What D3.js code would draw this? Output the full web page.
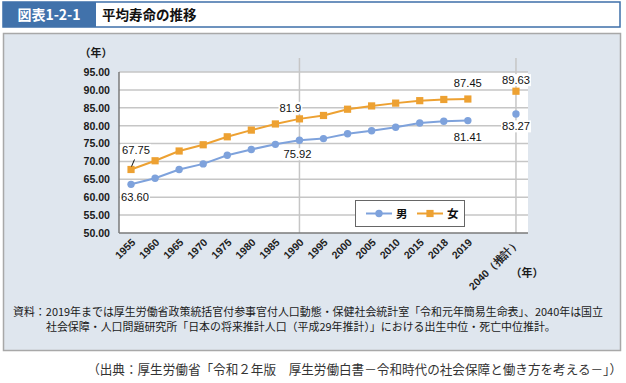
<!DOCTYPE html>
<html><head><meta charset="utf-8">
<script src="https://cdn.jsdelivr.net/npm/d3@7"></script>
<style>
body{margin:0;background:#fff;}
svg{display:block;}
</style></head>
<body>
<svg id="c" width="626" height="383"></svg>
<script>
const categories = ["1955","1960","1965","1970","1975","1980","1985","1990","1995","2000","2005","2010","2015","2018","2019","","2040（推計）"];
const male   = [63.60,65.32,67.74,69.31,71.73,73.35,74.78,75.92,76.38,77.72,78.56,79.55,80.75,81.25,81.41,null,83.27];
const female = [67.75,70.19,72.92,74.66,76.89,78.76,80.48,81.90,82.85,84.60,85.52,86.30,86.99,87.32,87.45,null,89.63];
const yTicks = [50,55,60,65,70,75,80,85,90,95];
const seriesNames = ["男","女"];
const labelText = {male:{"1955":"63.60","1990":"75.92","2019":"81.41","2040（推計）":"83.27"},
                   female:{"1955":"67.75","1990":"81.9","2019":"87.45","2040（推計）":"89.63"}};

const svg = d3.select("#c");
const blue = "#7ea2dc", orange = "#eda132";
const fontNum = "'Liberation Sans', Arial, sans-serif";
const fontJP = "'Noto Sans CJK JP', sans-serif";

// title bar
svg.append("rect").attr("x",3).attr("y",2).attr("width",617).attr("height",25)
  .attr("fill","#fff").attr("stroke","#3e6fa9").attr("stroke-width",1.5);
svg.append("rect").attr("x",3).attr("y",2).attr("width",93).attr("height",25).attr("fill","#4172ab");
svg.append("text").attr("x",49).attr("y",15).attr("dy","0.35em").attr("text-anchor","middle")
  .attr("fill","#fff").attr("font-family",fontJP).attr("font-weight","bold").attr("font-size",14).text("図表1-2-1");
svg.append("text").attr("x",102).attr("y",15).attr("dy","0.35em")
  .attr("fill","#111").attr("font-family",fontJP).attr("font-weight","bold").attr("font-size",13.5).text("平均寿命の推移");

// panel
svg.append("rect").attr("x",3.5).attr("y",33.5).attr("width",617).attr("height",317)
  .attr("fill","#dfe6ee").attr("stroke","#a8a8a8").attr("stroke-width",1.5);

const m = {l:119, r:528, t:72, b:233};
const x = d3.scaleBand().domain(categories).range([m.l,m.r]).padding(0);
const cx = c => x(c)+x.bandwidth()/2;
const y = d3.scaleLinear().domain([50,95]).range([m.b,m.t]);

// plot bg
svg.append("rect").attr("x",m.l).attr("y",m.t).attr("width",m.r-m.l).attr("height",m.b-m.t).attr("fill","#fff");

// gridlines
svg.append("g").selectAll("line").data(yTicks.filter(d=>d>50)).join("line")
  .attr("x1",m.l).attr("x2",m.r).attr("y1",d=>y(d)).attr("y2",d=>y(d))
  .attr("stroke","#c6c6c6").attr("stroke-width",1.5);
// vertical reference lines
svg.append("g").selectAll("line").data(["1990","2040（推計）"]).join("line")
  .attr("x1",d=>cx(d)).attr("x2",d=>cx(d)).attr("y1",58).attr("y2",m.b)
  .attr("stroke","#c6c6c6").attr("stroke-width",1.5);

// y axis
const yAxis = d3.axisLeft(y).tickValues(yTicks).tickFormat(d3.format(".2f")).tickSize(0).tickPadding(9);
const gy = svg.append("g").attr("transform",`translate(${m.l},0)`).call(yAxis);
gy.select(".domain").remove();
gy.selectAll("text").attr("font-family",fontNum).attr("font-size",10.6).attr("font-weight","bold").attr("fill","#1a1a1a");
svg.append("line").attr("x1",m.l).attr("x2",m.l).attr("y1",m.t).attr("y2",m.b).attr("stroke","#7a7a7a").attr("stroke-width",1.5);

// x axis
const xAxis = d3.axisBottom(x).tickSize(0).tickPadding(0);
const gx = svg.append("g").attr("transform",`translate(0,${m.b})`).call(xAxis);
gx.select(".domain").remove();
gx.selectAll("text").attr("font-family",fontNum).attr("font-size",10.5).attr("font-weight","bold").attr("fill","#222")
  .attr("text-anchor","end").attr("dy",0).attr("y",0)
  .attr("transform","translate(5,10) rotate(-45)");
svg.append("line").attr("x1",m.l).attr("x2",m.r).attr("y1",m.b).attr("y2",m.b).attr("stroke","#7a7a7a").attr("stroke-width",1.5);

// y unit & x unit
svg.append("text").attr("x",96).attr("y",53).attr("dy","0.35em").attr("text-anchor","middle")
  .attr("font-family",fontJP).attr("font-size",11).attr("font-weight","bold").attr("fill","#1a1a1a").text("（年）");
svg.append("text").attr("x",527).attr("y",273).attr("dy","0.35em").attr("text-anchor","middle")
  .attr("font-family",fontJP).attr("font-size",11).attr("font-weight","bold").attr("fill","#1a1a1a").text("（年）");

// lines
const lineGen = d3.line().defined(d=>d.v!=null).x(d=>cx(d.c)).y(d=>y(d.v));
const mk = arr => categories.map((c,i)=>({c,v:arr[i]}));
const mData = mk(male), fData = mk(female);
svg.append("path").datum(mData.slice(0,15)).attr("d",lineGen).attr("fill","none").attr("stroke",blue).attr("stroke-width",2);
svg.append("path").datum(fData.slice(0,15)).attr("d",lineGen).attr("fill","none").attr("stroke",orange).attr("stroke-width",2);
svg.append("g").selectAll("circle").data(mData.filter(d=>d.v!=null)).join("circle")
  .attr("cx",d=>cx(d.c)).attr("cy",d=>y(d.v)).attr("r",3.7).attr("fill",blue);
svg.append("g").selectAll("rect").data(fData.filter(d=>d.v!=null)).join("rect")
  .attr("x",d=>cx(d.c)-3.6).attr("y",d=>y(d.v)-3.6).attr("width",7.2).attr("height",7.2).attr("fill",orange);

// data labels
const offs = {
  male:{"1955":[4,13],"1990":[-2,14],"2019":[0,16],"2040（推計）":[0,12.5]},
  female:{"1955":[5,-19.5],"1990":[-9,-11],"2019":[0,-16],"2040（推計）":[0,-11]}
};
function addLabels(key,data){
  data.filter(d=>labelText[key][d.c]).forEach(d=>{
    const [dx,dy] = offs[key][d.c];
    const g = svg.append("g");
    const t = g.append("text").attr("x",cx(d.c)+dx).attr("y",y(d.v)+dy).attr("dy","0.35em")
      .attr("text-anchor","middle").attr("font-family",fontNum).attr("font-size",11.2).attr("fill","#111")
      .text(labelText[key][d.c]);
    const bb = t.node().getBBox();
    g.insert("rect","text").attr("x",bb.x-1).attr("y",bb.y).attr("width",bb.width+2).attr("height",bb.height).attr("fill","#fff");
  });
}
addLabels("male",mData); addLabels("female",fData);
// leader line for 67.75
svg.append("line").attr("x1",cx("1955")+3.5).attr("y1",y(67.75)-10).attr("x2",cx("1955")+0.5).attr("y2",y(67.75)-3)
  .attr("stroke","#111").attr("stroke-width",1);

// legend
const lg = svg.append("g");
lg.append("rect").attr("x",355.5).attr("y",200.5).attr("width",109).attr("height",26).attr("fill","#fff").attr("stroke","#666").attr("stroke-width",1);
const ly = 213.5;
lg.append("line").attr("x1",366).attr("x2",392).attr("y1",ly).attr("y2",ly).attr("stroke",blue).attr("stroke-width",2);
lg.append("circle").attr("cx",379).attr("cy",ly).attr("r",3.7).attr("fill",blue);
lg.append("text").attr("x",396).attr("y",ly).attr("dy","0.35em").attr("font-family",fontJP).attr("font-size",11.5).attr("font-weight","bold").attr("fill","#111").text(seriesNames[0]);
lg.append("line").attr("x1",417).attr("x2",443).attr("y1",ly).attr("y2",ly).attr("stroke",orange).attr("stroke-width",2);
lg.append("rect").attr("x",430-3.6).attr("y",ly-3.6).attr("width",7.2).attr("height",7.2).attr("fill",orange);
lg.append("text").attr("x",447).attr("y",ly).attr("dy","0.35em").attr("font-family",fontJP).attr("font-size",11.5).attr("font-weight","bold").attr("fill","#111").text(seriesNames[1]);

// notes
svg.append("text").attr("x",13).attr("y",312).attr("dy","0.35em").attr("font-family",fontJP).attr("font-size",10.95).attr("fill","#1a1a1a")
  .text("資料：2019年までは厚生労働省政策統括官付参事官付人口動態・保健社会統計室「令和元年簡易生命表」、2040年は国立");
svg.append("text").attr("x",46).attr("y",327).attr("dy","0.35em").attr("font-family",fontJP).attr("font-size",10.95).attr("fill","#1a1a1a")
  .text("社会保障・人口問題研究所「日本の将来推計人口（平成29年推計）」における出生中位・死亡中位推計。");
svg.append("text").attr("x",622).attr("y",370).attr("dy","0.35em").attr("text-anchor","end").attr("font-family",fontJP).attr("font-size",12.6).attr("fill","#333")
  .text("（出典：厚生労働省「令和２年版　厚生労働白書－令和時代の社会保障と働き方を考える－」）");
</script>
</body></html>
